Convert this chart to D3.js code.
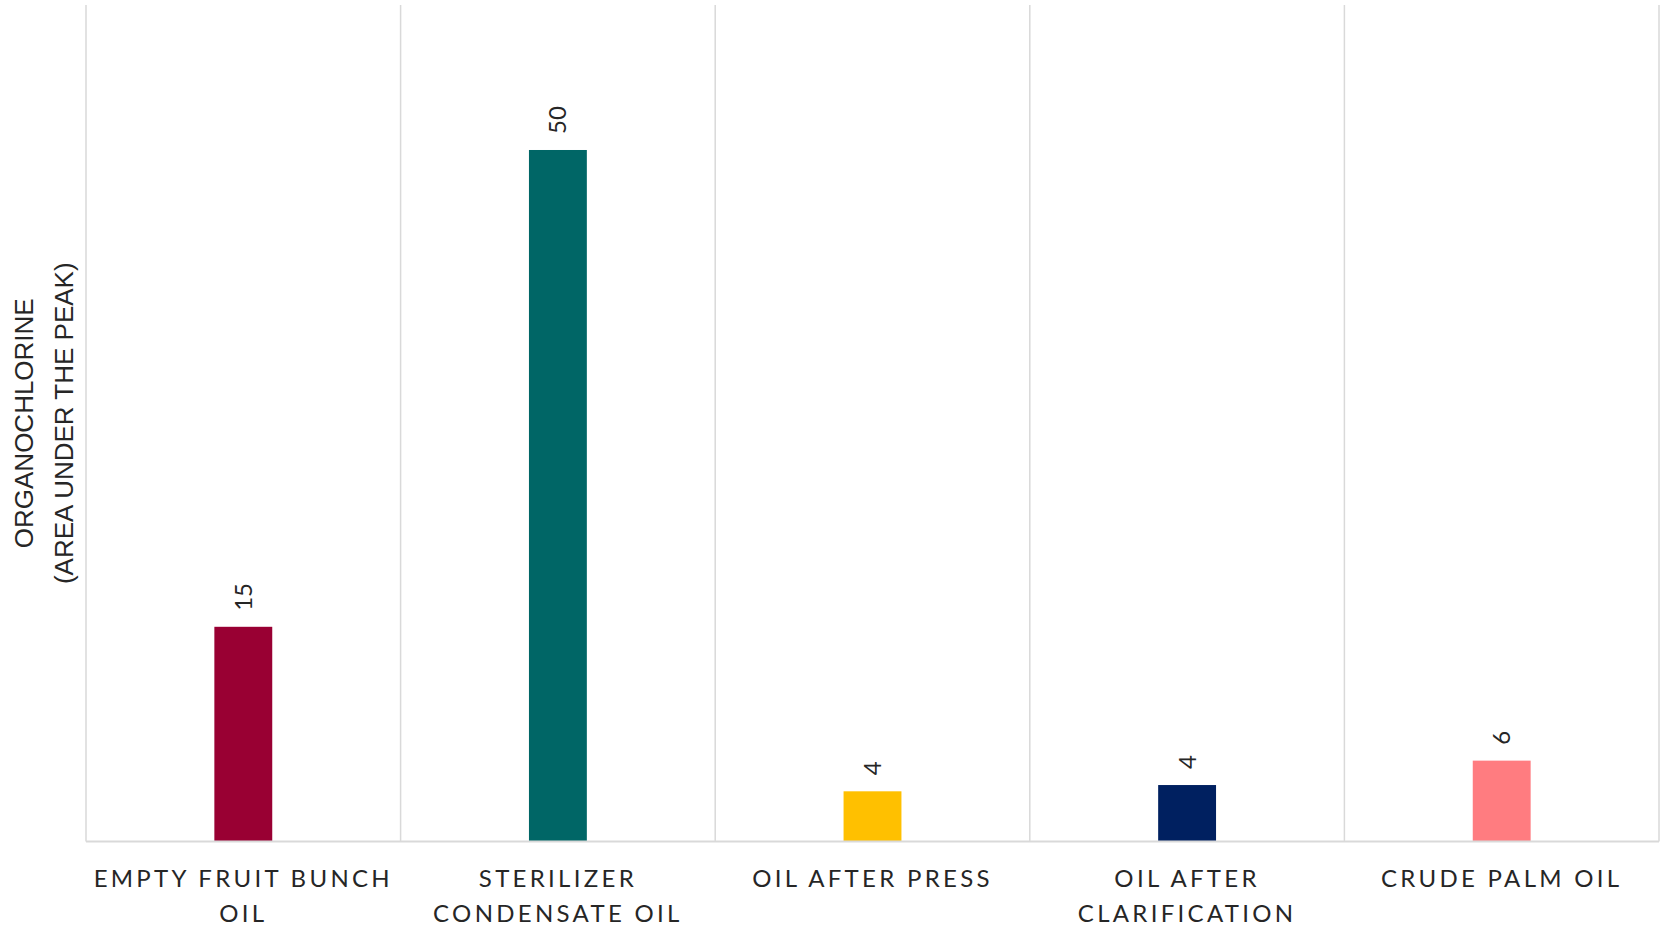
<!DOCTYPE html>
<html>
<head>
<meta charset="utf-8">
<script src="https://cdn.jsdelivr.net/npm/d3@7"></script>
<style>
  body { margin: 0; background: #fff; }
</style>
</head>
<body>
<div class="chart"></div>
<script>
var categories = ["EMPTY FRUIT BUNCH OIL", "STERILIZER CONDENSATE OIL", "OIL AFTER PRESS", "OIL AFTER CLARIFICATION", "CRUDE PALM OIL"];
var labelLines = [["EMPTY FRUIT BUNCH", "OIL"], ["STERILIZER", "CONDENSATE OIL"], ["OIL AFTER PRESS"], ["OIL AFTER", "CLARIFICATION"], ["CRUDE PALM OIL"]];
var values = [15.4, 49.6, 3.6, 4.05, 5.8];
var colors = ["#990033", "#006666", "#ffc000", "#002060", "#ff7c80"];
var yDomain = [0, 60];
var yTitle = ["ORGANOCHLORINE", "(AREA UNDER THE PEAK)"];

var margin = {top: 5, right: 2, bottom: 84.5, left: 86},
    width = 1661 - margin.left - margin.right,
    height = 926 - margin.top - margin.bottom;

var svg = d3.select(".chart")
    .append("svg")
    .attr("width", 1661)
    .attr("height", 926)
    .style("font-family", "Lato, 'Open Sans', sans-serif");

var g = svg.append("g")
    .attr("transform", "translate(" + margin.left + "," + margin.top + ")");

var x = d3.scaleBand()
    .domain(categories)
    .range([0, width])
    .padding(0);

var y = d3.scaleLinear()
    .domain(yDomain)
    .range([height, 0]);

var barW = x.bandwidth() * 0.184;

// vertical gridlines at category boundaries
var bounds = categories.map(function(c){ return x(c); }).concat([width]);
g.selectAll(".grid")
    .data(bounds)
    .enter().append("line")
    .attr("class", "grid")
    .attr("x1", function(d){ return d; })
    .attr("x2", function(d){ return d; })
    .attr("y1", 0)
    .attr("y2", height)
    .attr("stroke", "#d9d9d9")
    .attr("stroke-width", 1.5);

// bars
g.selectAll(".bar")
    .data(values)
    .enter().append("rect")
    .attr("class", "bar")
    .attr("x", function(d, i){ return x(categories[i]) + x.bandwidth()/2 - barW/2; })
    .attr("y", function(d){ return y(d); })
    .attr("width", barW)
    .attr("height", function(d){ return height - y(d); })
    .attr("fill", function(d, i){ return colors[i]; });

// baseline
g.append("line")
    .attr("x1", 0).attr("x2", width)
    .attr("y1", height).attr("y2", height)
    .attr("stroke", "#d9d9d9")
    .attr("stroke-width", 2);

// data labels (rotated)
g.selectAll(".val")
    .data(values)
    .enter().append("text")
    .attr("class", "val")
    .attr("transform", function(d, i){
        var cx = x(categories[i]) + x.bandwidth()/2;
        return "translate(" + cx + "," + (y(d) - 16) + ") rotate(-90)";
    })
    .attr("dy", "0.35em")
    .attr("text-anchor", "start")
    .attr("font-size", 24)
    .attr("fill", "#262626")
    .text(function(d){ return d3.format(".0f")(d); });

// x axis labels
var xAxis = g.append("g")
    .attr("transform", "translate(0," + height + ")")
    .call(d3.axisBottom(x).tickSize(0).tickPadding(0));
xAxis.select(".domain").remove();
xAxis.selectAll(".tick text").each(function(d, i){
    var t = d3.select(this).text(null)
        .attr("font-size", 24)
        .attr("font-family", "Lato, 'Open Sans', sans-serif")
        .attr("fill", "#262626")
        .attr("letter-spacing", "3.3px")
        .attr("dy", null)
        .attr("y", 0);
    labelLines[i].forEach(function(line, j){
        t.append("tspan")
            .attr("x", 0)
            .attr("y", 45 + j * 35)
            .text(line);
    });
});

// y title
var yt = svg.append("text")
    .attr("transform", "translate(0," + (margin.top + height/2) + ") rotate(-90)")
    .attr("text-anchor", "middle")
    .attr("font-family", "'Liberation Sans', Arial, sans-serif")
    .attr("font-size", 26)
    .attr("fill", "#262626");
yTitle.forEach(function(line, j){
    yt.append("tspan")
        .attr("x", 0)
        .attr("y", 33 + j * 40)
        .text(line);
});
</script>
</body>
</html>
